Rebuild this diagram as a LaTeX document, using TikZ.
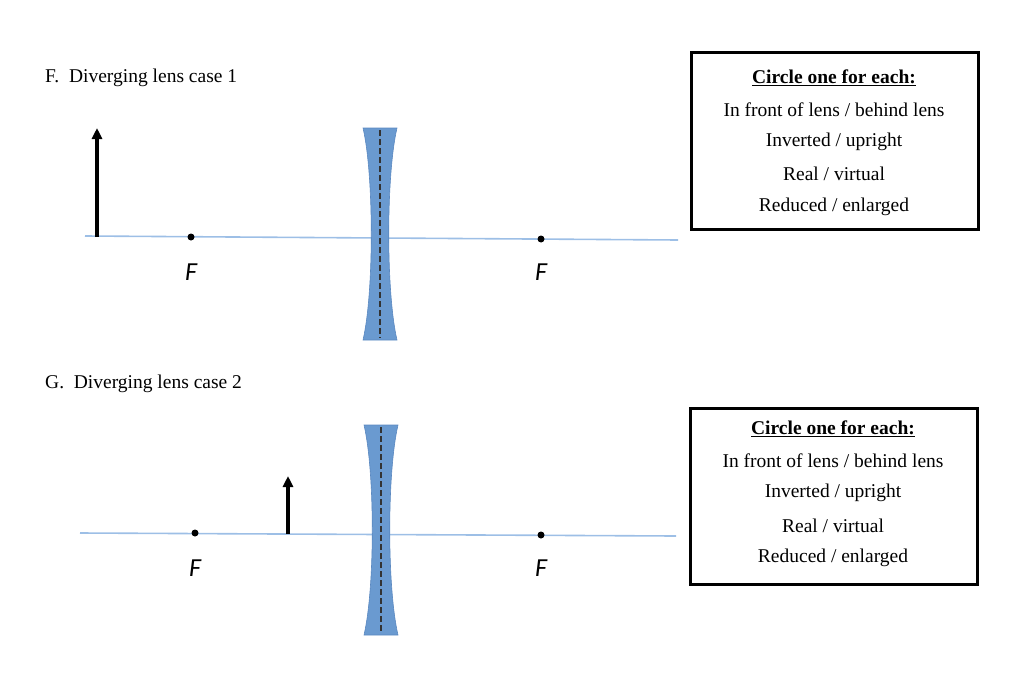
\documentclass[tikz,border=0pt]{standalone}
\usepackage{fontspec}
\setmainfont{Liberation Serif}
\newfontfamily\flab{Carlito}
\begin{document}
\begin{tikzpicture}[x=1pt,y=-1pt,
  axis/.style={draw=axisblue,line width=1.6pt},
  lensbody/.style={fill=lensblue,draw=lensedge,line width=0.6pt},
  obj/.style={line width=3.6pt,-{Triangle[length=11pt,width=10pt]}},
  fdot/.style={circle,fill=black,inner sep=0pt,minimum size=7pt},
  flabel/.style={font=\flab\itshape\fontsize{26}{26}\selectfont},
  txt/.style={font=\fontsize{19.5}{19.5}\selectfont},
  box/.style={draw=black,line width=3pt}]
\usetikzlibrary{arrows.meta}
\definecolor{axisblue}{HTML}{9DBFE6}
\definecolor{lensblue}{HTML}{6A9AD0}
\definecolor{lensedge}{HTML}{5A88C0}
\useasboundingbox (0,0) rectangle (1024,685);
% headings
\node[txt,anchor=west,inner sep=0pt] (h1) at (45,78) {F.\ \ Diverging lens case 1};
\node[txt,anchor=west,inner sep=0pt] (h2) at (45,384) {G.\ \ Diverging lens case 2};
% case 1
\coordinate (a1s) at (85,236); \coordinate (a1e) at (678,240);
\draw[axis] (a1s) -- (a1e);
\coordinate (o1b) at (97,237); \coordinate (o1t) at (97,128);
\draw[obj] (o1b) -- (o1t);
\node[fdot] (f1a) at (191,237) {};
\node[fdot] (f1b) at (541,239) {};
\node[flabel] (lf1a) at (191,272) {F};
\node[flabel] (lf1b) at (541,272) {F};
\path[lensbody] (363,128) -- (397,128) .. controls (386,175) and (386,293) .. (397,340) -- (363,340) .. controls (374,293) and (374,175) .. (363,128) -- cycle;
\coordinate (d1t) at (380,130); \coordinate (d1b) at (380,338);
\draw[line width=1.1pt,dash pattern=on 6pt off 3pt,black!80] (d1t) -- (d1b);
\node[box,minimum width=287pt,minimum height=176pt] (b1) at (834.5,141) {};
\node[txt] at (834,78) {\textbf{\underline{Circle one for each:}}};
\node[txt] at (834,110) {In front of lens / behind lens};
\node[txt] at (834,142) {Inverted / upright};
\node[txt] at (834,174) {Real / virtual};
\node[txt] at (834,207) {Reduced / enlarged};
% case 2
\coordinate (a2s) at (80,533); \coordinate (a2e) at (676,536);
\draw[axis] (a2s) -- (a2e);
\coordinate (o2b) at (288,534); \coordinate (o2t) at (288,476);
\draw[obj] (o2b) -- (o2t);
\node[fdot] (f2a) at (195,533) {};
\node[fdot] (f2b) at (541,535) {};
\node[flabel] (lf2a) at (195,568) {F};
\node[flabel] (lf2b) at (541,568) {F};
\path[lensbody] (364,425) -- (398,425) .. controls (387,472) and (387,588) .. (398,635) -- (364,635) .. controls (375,588) and (375,472) .. (364,425) -- cycle;
\coordinate (d2t) at (381,427); \coordinate (d2b) at (381,633);
\draw[line width=1.1pt,dash pattern=on 6pt off 3pt,black!80] (d2t) -- (d2b);
\node[box,minimum width=287pt,minimum height=176pt] (b2) at (833.5,496) {};
\node[txt] at (833,429) {\textbf{\underline{Circle one for each:}}};
\node[txt] at (833,461) {In front of lens / behind lens};
\node[txt] at (833,493) {Inverted / upright};
\node[txt] at (833,526) {Real / virtual};
\node[txt] at (833,558) {Reduced / enlarged};
\end{tikzpicture}
\end{document}
